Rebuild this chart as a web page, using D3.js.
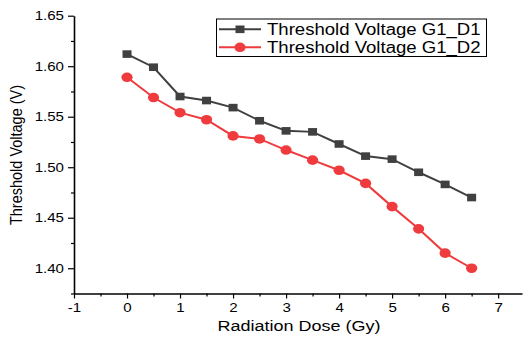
<!DOCTYPE html>
<html>
<head>
<meta charset="utf-8">
<script src="https://cdn.jsdelivr.net/npm/d3@7"></script>
<style>
  body { margin: 0; background: #fff; }
  svg { display: block; font-family: "Liberation Sans", Arial, sans-serif; }
</style>
</head>
<body>
<svg width="523" height="337"></svg>
<script>
const dose = [0, 0.5, 1, 1.5, 2, 2.5, 3, 3.5, 4, 4.5, 5, 5.5, 6, 6.5];
const vthD1 = [1.612, 1.599, 1.570, 1.566, 1.559, 1.546, 1.536, 1.535, 1.523, 1.511, 1.508, 1.495, 1.483, 1.470];
const vthD2 = [1.589, 1.569, 1.554, 1.547, 1.531, 1.528, 1.517, 1.507, 1.497, 1.484, 1.461, 1.439, 1.415, 1.400];
const seriesNames = ["Threshold Voltage G1_D1", "Threshold Voltage G1_D2"];
const xTicks = [-1, 0, 1, 2, 3, 4, 5, 6, 7];
const yTicks = [1.40, 1.45, 1.50, 1.55, 1.60, 1.65];

const stretch = 1.16;
const colors = ["#404040", "#ef3b3d"];

const svg = d3.select("svg");

const x = d3.scaleLinear().domain([-1, 7.45]).range([74, 522]);
const y = d3.scaleLinear().domain([1.375, 1.65]).range([293.5, 15.7]);

// widen horizontal text a bit, like the original picture
function widen(sel) {
  sel.each(function () {
    const w = this.getComputedTextLength();
    d3.select(this).attr("textLength", w * stretch).attr("lengthAdjust", "spacingAndGlyphs");
  });
}

// minor ticks
svg.append("g")
  .attr("transform", "translate(0,293.5)")
  .call(d3.axisBottom(x).tickValues(d3.range(-0.5, 7.5, 1)).tickSize(3).tickFormat(""))
  .call(g => g.select(".domain").remove());
svg.append("g")
  .attr("transform", "translate(74,0)")
  .call(d3.axisLeft(y).tickValues(d3.range(1.375, 1.65, 0.05)).tickSize(3).tickFormat(""))
  .call(g => g.select(".domain").remove());

// major axes
const xAxis = svg.append("g")
  .attr("transform", "translate(0,293.5)")
  .call(d3.axisBottom(x).tickValues(xTicks).tickSize(5).tickSizeOuter(0).tickPadding(4).tickFormat(d => String(d)));
xAxis.selectAll("text").style("font-size", "13px").attr("fill", "#000").call(widen);

const yAxis = svg.append("g")
  .attr("transform", "translate(74,0)")
  .call(d3.axisLeft(y).tickValues(yTicks).tickSize(6).tickSizeOuter(0).tickPadding(4).tickFormat(d => d.toFixed(2)));
yAxis.selectAll("text").style("font-size", "13px").attr("fill", "#000").call(widen);

svg.selectAll(".domain").attr("stroke-width", 1.6);
svg.selectAll(".tick line").attr("stroke-width", 1.2);

// axis titles
svg.append("text")
  .attr("x", 299).attr("y", 331)
  .attr("text-anchor", "middle")
  .style("font-size", "15.5px")
  .text("Radiation Dose (Gy)")
  .call(widen);

svg.append("text")
  .attr("transform", `translate(22,155) scale(${stretch},1) rotate(-90)`)
  .attr("text-anchor", "middle")
  .style("font-size", "14.5px")
  .text("Threshold Voltage (V)");

// series
const series = [vthD1, vthD2];
const line = d3.line().x((d, i) => x(dose[i])).y(d => y(d));

series.forEach((vals, s) => {
  svg.append("path")
    .datum(vals)
    .attr("d", line)
    .attr("fill", "none")
    .attr("stroke", colors[s])
    .attr("stroke-width", 2);
});

svg.selectAll(".sq")
  .data(vthD1)
  .enter().append("rect")
  .attr("x", (d, i) => x(dose[i]) - 4.5)
  .attr("y", d => y(d) - 3.8)
  .attr("width", 9)
  .attr("height", 7.6)
  .attr("fill", colors[0]);

svg.selectAll(".dot")
  .data(vthD2)
  .enter().append("ellipse")
  .attr("cx", (d, i) => x(dose[i]))
  .attr("cy", d => y(d))
  .attr("rx", 5.6)
  .attr("ry", 4.8)
  .attr("fill", colors[1]);

// legend
const legend = svg.append("g");
legend.append("rect")
  .attr("x", 216.5).attr("y", 19)
  .attr("width", 270).attr("height", 37.5)
  .attr("fill", "#fff")
  .attr("stroke", "#000")
  .attr("stroke-width", 1);

seriesNames.forEach((name, i) => {
  const cy = 29.3 + i * 18;
  legend.append("line")
    .attr("x1", 219).attr("x2", 261)
    .attr("y1", cy).attr("y2", cy)
    .attr("stroke", colors[i])
    .attr("stroke-width", 2);
  if (i === 0) {
    legend.append("rect")
      .attr("x", 240 - 4.5).attr("y", cy - 3.8)
      .attr("width", 9).attr("height", 7.6)
      .attr("fill", colors[i]);
  } else {
    legend.append("ellipse")
      .attr("cx", 240).attr("cy", cy)
      .attr("rx", 5.6).attr("ry", 4.8)
      .attr("fill", colors[i]);
  }
  legend.append("text")
    .attr("x", 267).attr("y", cy)
    .attr("dy", "0.36em")
    .style("font-size", "16px")
    .text(name)
    .call(widen);
});
</script>
</body>
</html>
